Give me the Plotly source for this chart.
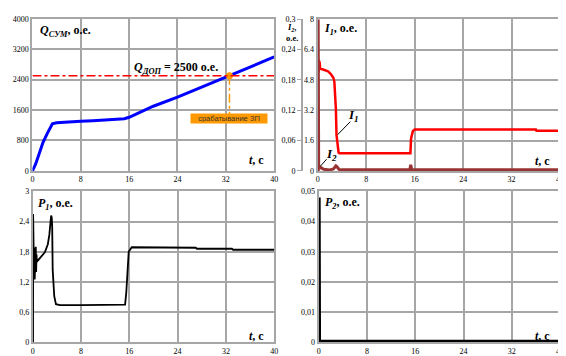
import plotly.graph_objects as go

W, H = 566, 356

# ---------------- data ----------------
t_ticks = [0, 8, 16, 24, 32, 40]
t_ticklabels = ["0", "8", "16", "24", "32", "40"]

q_t = [0, 0.5, 1.0, 1.75, 2.5, 3.3, 4, 6, 8, 10, 12, 14, 15.2, 16, 17, 18, 20, 24, 28, 32.6, 36, 40]
q_sum = [0, 170, 400, 750, 1000, 1240, 1265, 1290, 1305, 1320, 1340, 1355, 1370, 1410, 1480, 1560,
         1700, 1940, 2200, 2495, 2730, 3000]
q_dop = 2500
t_trip = 32.6
q_ticks = [0, 800, 1600, 2400, 3200, 4000]
q_ticklabels = ["0", "800", "1600", "2400", "3200", "4000"]

i1_t = [0, 0.03, 0.08, 0.13, 0.18, 0.23, 0.28, 0.33, 0.4, 0.5, 0.9, 1.7, 2.2, 2.6, 2.75, 2.9, 3.0,
        3.1, 3.3, 3.45, 3.6, 10, 15.3, 15.4, 15.5, 15.7, 16.0, 36, 36.1, 40]
i1 = [0, 5.9, 5.2, 5.85, 5.25, 5.8, 5.3, 5.7, 5.4, 5.38, 5.35, 5.26, 5.1, 4.9, 4.7, 4.05, 3.27,
      1.9, 1.37, 0.96, 0.93, 0.93, 0.93, 1.7, 1.9, 2.1, 2.18, 2.18, 2.12, 2.12]
i1_ticks = [0, 1.6, 3.2, 4.8, 6.4, 8]
i1_ticklabels = ["0", "1.6", "3.2", "4.8", "6.4", "8"]

i2_t = [0.08, 0.08, 0.16, 0.3, 0.6, 1.0, 2.0, 2.6, 3.0, 3.2, 3.5, 4.0, 15.2, 15.35, 15.5, 15.8, 40]
i2 = [0, 0.3, 0.003, 0.008, 0.006, 0.003, 0.002, 0.004, 0.01, 0.008, 0.003, 0.002, 0.002, 0.012,
      0.003, 0.002, 0.002]
i2_ticks = [0, 0.06, 0.12, 0.18, 0.24, 0.3]
i2_ticklabels = ["0", "0,06", "0,12", "0,18", "0,24", "0,3"]

p1_t = [0.05, 0.06, 0.1, 0.14, 0.2, 0.26, 0.32, 0.38, 0.44, 0.5, 0.56, 0.62, 0.7, 0.8, 1.2, 1.6, 2.0,
        2.5, 2.75, 2.95, 3.05, 3.15, 3.22, 3.3, 3.56, 3.84, 4.5, 8, 12, 15.3, 15.5, 15.7, 15.9, 16.4,
        20, 27, 27.2, 33, 33.2, 40]
p1 = [0, 2.55, 1.25, 1.9, 1.3, 1.88, 1.25, 1.85, 1.35, 1.9, 1.4, 1.75, 1.6, 1.62, 1.67, 1.73, 1.79,
      1.95, 2.14, 2.4, 2.52, 2.48, 2.3, 1.44, 0.92, 0.76, 0.74, 0.74, 0.74, 0.75, 1.0, 1.5, 1.8, 1.89,
      1.89, 1.88, 1.86, 1.86, 1.84, 1.84]
p1_ticks = [0, 0.6, 1.2, 1.8, 2.4, 3]
p1_ticklabels = ["0", "0,6", "1,2", "1,8", "2,4", "3"]

p2_t = [0.08, 0.08, 0.14, 40]
p2 = [0, 0.048, 0.0004, 0.0004]
p2_ticks = [0, 0.01, 0.02, 0.03, 0.04, 0.05]
p2_ticklabels = ["0", "0,01", "0,02", "0,03", "0,04", "0,05"]

# ---------------- layout helpers ----------------
SERIF = "Liberation Serif"
GRID = "#a6a6a6"

def xd(px0, px1):
    return [px0 / W, px1 / W]

def yd(top, bottom):
    return [1 - bottom / H, 1 - top / H]

def xax(domain, anchor):
    return dict(domain=domain, anchor=anchor, range=[0, 40], tickvals=t_ticks, ticktext=t_ticklabels,
                showgrid=True, gridcolor=GRID, gridwidth=2, showline=True, linecolor=GRID, linewidth=2,
                mirror=True, zeroline=False, ticks="", tickfont=dict(family=SERIF, size=8, color="black"),
                fixedrange=True)

def yax(domain, anchor, rng, tv, tt):
    return dict(domain=domain, anchor=anchor, range=rng, tickvals=tv, ticktext=tt,
                showgrid=True, gridcolor=GRID, gridwidth=2, showline=True, linecolor=GRID, linewidth=2,
                mirror=True, zeroline=False, ticks="", tickfont=dict(family=SERIF, size=8, color="black"),
                fixedrange=True)

fig = go.Figure()

# Panel 1
fig.add_trace(go.Scatter(x=q_t, y=q_sum, mode="lines", line=dict(color="#0000ff", width=3),
                         xaxis="x", yaxis="y", showlegend=False))
fig.add_trace(go.Scatter(x=[t_trip], y=[q_dop], mode="markers",
                         marker=dict(color="#ff9900", size=7), xaxis="x", yaxis="y", showlegend=False))
# Panel 2
fig.add_trace(go.Scatter(x=i1_t, y=i1, mode="lines", line=dict(color="#ff0000", width=2.5),
                         xaxis="x2", yaxis="y2", showlegend=False))
fig.add_trace(go.Scatter(x=i2_t, y=i2, mode="lines", line=dict(color="#993333", width=3),
                         xaxis="x2", yaxis="y3", showlegend=False))
# Panel 3
fig.add_trace(go.Scatter(x=p1_t, y=p1, mode="lines", line=dict(color="black", width=1.8),
                         xaxis="x3", yaxis="y4", showlegend=False))
# Panel 4
fig.add_trace(go.Scatter(x=p2_t, y=p2, mode="lines", line=dict(color="black", width=3),
                         xaxis="x4", yaxis="y5", showlegend=False))

layout = dict(
    width=W, height=H, margin=dict(l=0, r=0, t=0, b=0),
    paper_bgcolor="white", plot_bgcolor="white",
    font=dict(family=SERIF, size=12, color="black"),
    xaxis=xax(xd(22.7, 267), "y"),
    yaxis=yax(yd(7, 163), "x", [0, 4000], q_ticks, q_ticklabels),
    xaxis2=xax(xd(311, 556), "y2"),
    yaxis2=yax(yd(7.5, 163), "x2", [0, 8], i1_ticks, i1_ticklabels),
    xaxis3=xax(xd(23, 267), "y4"),
    yaxis4=yax(yd(184, 339), "x3", [0, 3], p1_ticks, p1_ticklabels),
    xaxis4=xax(xd(312, 556), "y5"),
    yaxis5=yax(yd(184, 339), "x4", [0, 0.05], p2_ticks, p2_ticklabels),
)
layout["yaxis3"] = dict(overlaying="y2", anchor="free", position=295 / W, side="left", range=[0, 0.3],
                        tickvals=i2_ticks, ticktext=i2_ticklabels, showgrid=False, zeroline=False,
                        showline=True, linecolor=GRID, linewidth=1.5, ticks="outside", ticklen=4,
                        tickcolor=GRID, tickfont=dict(family=SERIF, size=8, color="black"),
                        fixedrange=True)
fig.update_layout(**layout)

# threshold line and trip indicator
fig.add_shape(type="line", xref="x", yref="y", x0=0, x1=40, y0=q_dop, y1=q_dop,
              line=dict(color="#ff0000", width=1.5, dash="dashdot"))
fig.add_shape(type="line", xref="x", yref="y", x0=t_trip, x1=t_trip, y0=q_dop, y1=1490,
              line=dict(color="#ff9900", width=1.5, dash="dashdot"))

ann = []
def txt(x, y, s, size=12, xanchor="left", align="left"):
    ann.append(dict(x=x / W, y=1 - y / H, xref="paper", yref="paper", text=s, showarrow=False,
                    xanchor=xanchor, yanchor="middle", align=align, borderpad=0,
                    font=dict(family=SERIF, size=size, color="black")))

txt(29, 20, "<b><i>Q</i><sub><i>СУМ</i></sub>, о.е.</b>")
txt(124, 57, "<b><i>Q</i><sub><i>ДОП</i></sub> = 2500 о.е.</b>")
txt(258, 152, "<b><i>t</i>, c</b>", xanchor="right")
txt(316, 17, "<b><i>I</i><sub><i>1</i></sub>, о.е.</b>")
txt(292, 21.5, "<b><i>I</i><sub><i>2</i></sub>,<br>о.е.</b>", size=8.5, xanchor="right", align="center")
txt(547, 153, "<b><i>t</i>, c</b>", xanchor="right")
txt(341, 106, "<b><i>I</i><sub><i>1</i></sub></b>", size=13)
txt(318, 146, "<b><i>I</i><sub><i>2</i></sub></b>", size=13)
txt(27, 197, "<b><i>P</i><sub><i>1</i></sub>, о.е.</b>")
txt(258, 332, "<b><i>t</i>, c</b>", xanchor="right")
txt(317, 196, "<b><i>P</i><sub><i>2</i></sub>, о.е.</b>")
txt(547, 332, "<b><i>t</i>, c</b>", xanchor="right")

ann.append(dict(x=t_trip, y=1385, xref="x", yref="y", text="срабатывание ЗП", showarrow=False,
                font=dict(family="Liberation Sans", size=7.5, color="#333333"), bgcolor="#ff9900",
                width=74, height=7, borderpad=1, xanchor="center", yanchor="middle"))
fig.update_layout(annotations=ann)

# pointer lines for curve labels
fig.add_shape(type="line", xref="paper", yref="paper", x0=331 / W, y0=1 - 126 / H, x1=344 / W,
              y1=1 - 112.5 / H, line=dict(color="black", width=1))
fig.add_shape(type="line", xref="paper", yref="paper", x0=313.5 / W, y0=1 - 158.5 / H, x1=320 / W,
              y1=1 - 151 / H, line=dict(color="black", width=1))

fig.write_html("out.html")
